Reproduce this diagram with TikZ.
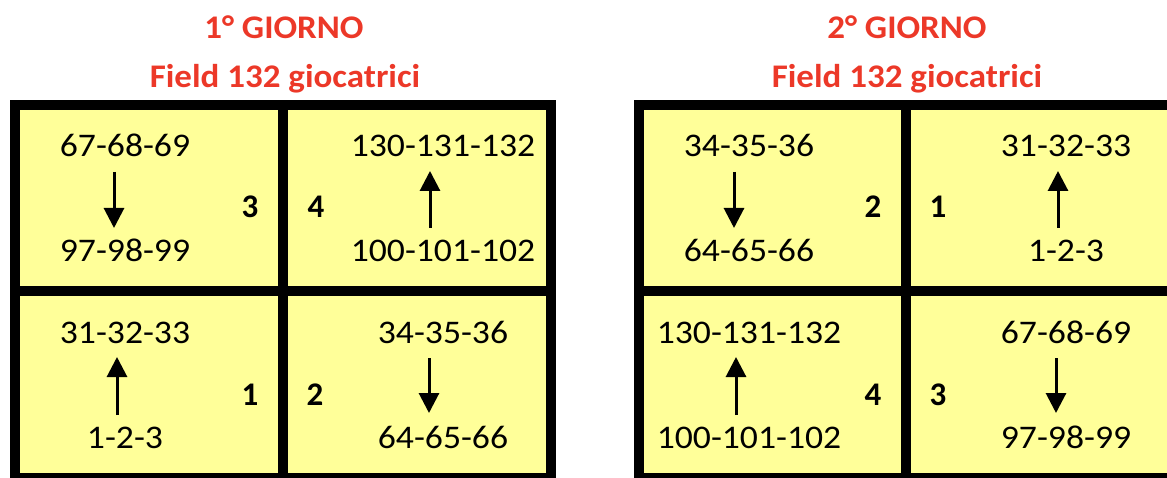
\documentclass[tikz,border=0pt]{standalone}
\usepackage{graphicx}
\usepackage{fontspec}
\setmainfont{Carlito}
\usetikzlibrary{arrows.meta}
\definecolor{titlered}{RGB}{236,56,40}
\definecolor{cellyellow}{RGB}{255,255,153}
\newcommand{\sx}[1]{\scalebox{1.08}[1]{#1}}
\newcommand{\tx}[1]{\scalebox{1.06}[1]{#1}}
\tikzset{
  num/.style={font=\fontsize{33}{40}\selectfont, anchor=base, inner sep=0pt},
  lab/.style={font=\fontsize{33}{40}\selectfont\bfseries, anchor=base, inner sep=0pt},
  ttl/.style={font=\fontsize{33}{40}\selectfont\bfseries, text=titlered, anchor=base, inner sep=0pt},
  arr/.style={line width=3pt, -{Triangle[width=20pt,length=20pt]}},
  gridframe/.style={line width=10pt, fill=cellyellow},
  divider/.style={line width=10pt}
}
\begin{document}
\begin{tikzpicture}[x=1pt,y=-1pt]
\useasboundingbox (0,0) rectangle (1167,478);
\clip (0,0) rectangle (1167,478);
% ---------- Day 1 ----------
\node[ttl] (t1) at (284,39) {\tx{1° GIORNO}};
\node[ttl] (f1) at (285,88) {\tx{Field 132 giocatrici}};
\draw[gridframe] (15,105.5) rectangle (551,478);
\draw[divider] (283,105.5) -- (283,478);
\draw[divider] (15,291.5) -- (551,291.5);
% TL
\node[num] (a1) at (125,157) {\sx{67-68-69}};
\node[num] (a2) at (125,262) {\sx{97-98-99}};
\node[lab] (a3) at (250,218) {3};
\coordinate (a1s) at (114,172); \coordinate (a2n) at (114,228);
\draw[arr] (a1s) -- (a2n);
% TR
\node[lab] (b3) at (316,218) {4};
\node[num] (b1) at (443,157) {\sx{130-131-132}};
\node[num] (b2) at (443,262) {\sx{100-101-102}};
\coordinate (b1s) at (430,171); \coordinate (b2n) at (430,228);
\draw[arr] (b2n) -- (b1s);
% BL
\node[num] (c1) at (125,343) {\sx{31-32-33}};
\node[num] (c2) at (125,448) {\sx{1-2-3}};
\node[lab] (c3) at (250,405) {1};
\coordinate (c1s) at (117,357); \coordinate (c2n) at (117,415);
\draw[arr] (c2n) -- (c1s);
% BR
\node[lab] (d3) at (315,405) {2};
\node[num] (d1) at (443,343) {\sx{34-35-36}};
\node[num] (d2) at (443,448) {\sx{64-65-66}};
\coordinate (d1s) at (429,358); \coordinate (d2n) at (429,413);
\draw[arr] (d1s) -- (d2n);
% ---------- Day 2 ----------
\node[ttl] (t2) at (907,39) {\tx{2° GIORNO}};
\node[ttl] (f2) at (907,88) {\tx{Field 132 giocatrici}};
\draw[gridframe] (639,105.5) rectangle (1173,478);
\draw[divider] (906,105.5) -- (906,478);
\draw[divider] (639,291.5) -- (1173,291.5);
% TL
\node[num] (e1) at (749,157) {\sx{34-35-36}};
\node[num] (e2) at (749,262) {\sx{64-65-66}};
\node[lab] (e3) at (873,218) {2};
\coordinate (e1s) at (734,172); \coordinate (e2n) at (734,228);
\draw[arr] (e1s) -- (e2n);
% TR
\node[lab] (g3) at (938,218) {1};
\node[num] (g1) at (1066,157) {\sx{31-32-33}};
\node[num] (g2) at (1066,262) {\sx{1-2-3}};
\coordinate (g1s) at (1058,171); \coordinate (g2n) at (1058,228);
\draw[arr] (g2n) -- (g1s);
% BL
\node[num] (h1) at (749,343) {\sx{130-131-132}};
\node[num] (h2) at (749,448) {\sx{100-101-102}};
\node[lab] (h3) at (873,405) {4};
\coordinate (h1s) at (736,357); \coordinate (h2n) at (736,415);
\draw[arr] (h2n) -- (h1s);
% BR
\node[lab] (k3) at (938,405) {3};
\node[num] (k1) at (1066,343) {\sx{67-68-69}};
\node[num] (k2) at (1066,448) {\sx{97-98-99}};
\coordinate (k1s) at (1056,358); \coordinate (k2n) at (1056,413);
\draw[arr] (k1s) -- (k2n);
\end{tikzpicture}
\end{document}
